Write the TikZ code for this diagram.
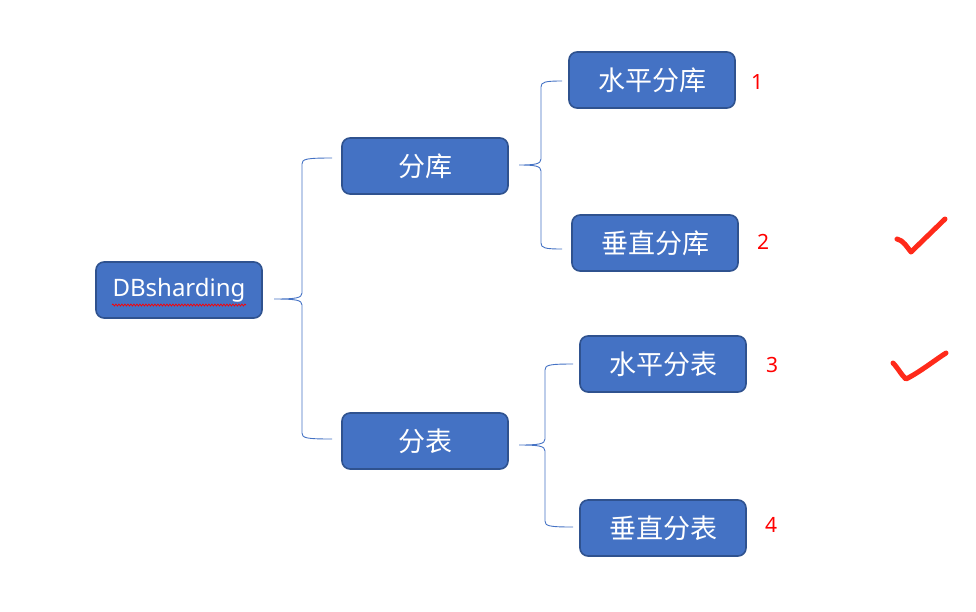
\documentclass[tikz,border=0pt]{standalone}
\usepackage{fontspec}
\setmainfont{Noto Sans}
\newfontfamily\cjk{Noto Sans CJK SC}
\usetikzlibrary{decorations.pathmorphing}
\definecolor{boxfill}{HTML}{4472C4}
\definecolor{boxline}{HTML}{2F528F}
\definecolor{bracecol}{HTML}{4472C4}
\definecolor{markred}{HTML}{FF2A1A}
\tikzset{
  box/.style={draw=boxline, fill=boxfill, line width=1.6pt, rounded corners=8pt,
    minimum width=166pt, minimum height=56pt, inner sep=0pt, text=white,
    font=\cjk\fontsize{27}{31}\selectfont},
  latinbox/.style={box, font=\fontsize{24}{29}\selectfont},
  bracestyle/.style={draw=bracecol, line width=0.9pt},
  num/.style={text=red, font=\fontsize{21}{25}\selectfont, inner sep=0pt},
  tick/.style={draw=markred, line width=5pt, line cap=round, line join=round}
}
\newcommand\obrace[6]{% #1 xt, #2 ym, #3 xv, #4 yt, #5 yb, #6 xe
  \draw[bracestyle] (#6,#4) .. controls (#3+4,#4) and (#3,#4+1) .. (#3,#4+6)
    -- (#3,#2-6) .. controls (#3,#2-1) and (#3-6,#2) .. (#1,#2)
    .. controls (#3-6,#2) and (#3,#2+1) .. (#3,#2+6)
    -- (#3,#5-6) .. controls (#3,#5-1) and (#3+4,#5) .. (#6,#5);}
\begin{document}
\begin{tikzpicture}[x=1pt,y=-1pt]
\useasboundingbox (0,0) rectangle (976,611);
\node[latinbox] (db) at (179,290) {\raisebox{-2pt}{DBsharding}};
\node[box] (fk) at (425,166) {分库};
\node[box] (fb) at (425,441) {分表};
\node[box] (spfk) at (652,80) {水平分库};
\node[box] (czfk) at (655,243) {垂直分库};
\node[box] (spfb) at (663,364) {水平分表};
\node[box] (czfb) at (663,528) {垂直分表};
% spell-check underline
\draw[red, line width=0.7pt, decorate, decoration={snake, amplitude=1pt, segment length=3pt}] (112,305) -- (246,305);
% braces
\obrace{274}{299}{302}{158}{439}{332}
\obrace{519}{165}{541}{81}{249}{562}
\obrace{519}{445}{545}{364}{527}{573}
% numbers
\node[num] (n1) at (757,82) {1};
\node[num] (n2) at (763,242) {2};
\node[num] (n3) at (772,365) {3};
\node[num] (n4) at (771,525) {4};
% check marks
\draw[tick] (897,239) .. controls (903,240) and (907,247) .. (911,252) -- (945,219);
\draw[tick] (893,363) .. controls (898,368) and (902,376) .. (906,379) .. controls (920,372) and (935,360) .. (946,353);
\end{tikzpicture}
\end{document}
